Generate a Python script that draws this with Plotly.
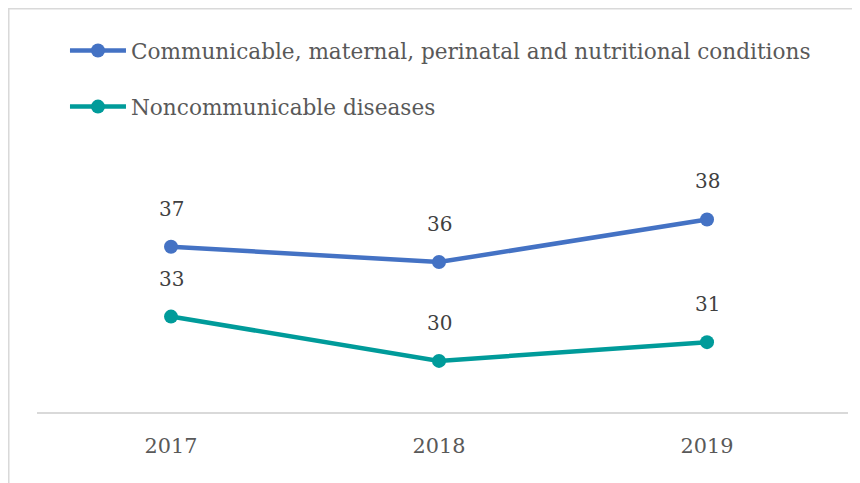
import plotly.graph_objects as go

years = ["2017", "2018", "2019"]
communicable = [36.7, 35.8, 38.3]
noncommunicable = [32.6, 30.0, 31.1]
series_names = [
    "Communicable, maternal, perinatal and nutritional conditions",
    "Noncommunicable diseases",
]
colors = ["#4472C4", "#009B9A"]

FONT = "DejaVu Serif"
fig = go.Figure()
for i, (name, vals) in enumerate(zip(series_names, [communicable, noncommunicable])):
    fig.add_trace(go.Scatter(
        x=years, y=vals, name=name, mode="lines+markers",
        line=dict(color=colors[i], width=4.5),
        marker=dict(size=14, color=colors[i]),
        legendgroup=f"g{i}",
    ))
    for idx, v in enumerate(vals):
        fig.add_annotation(x=idx, y=v, text=f"{v:.0f}", showarrow=False,
                           yshift=38, font=dict(family=FONT, size=20, color="#404040"))

# page body has an 8px margin, so the figure is offset by 8px in the window
fig.update_layout(
    width=860, height=483,
    margin=dict(l=29, r=20, t=174, b=79, autoexpand=False),
    paper_bgcolor="white", plot_bgcolor="white",
    showlegend=True,
    legend=dict(x=0.0345, y=1.661, xanchor="left", yanchor="top",
                font=dict(family=FONT, size=21.6, color="#595959"),
                traceorder="grouped", tracegroupgap=25, itemwidth=56,
                bgcolor="rgba(0,0,0,0)"),
    xaxis=dict(type="category", range=[-0.5, 2.526], showgrid=False,
               showline=True, linecolor="#D9D9D9", linewidth=1.5,
               ticks="", tickfont=dict(family=FONT, size=20.8, color="#595959"),
               ticklabelstandoff=14),
    yaxis=dict(range=[27, 40.5], visible=False, showgrid=False),
    shapes=[dict(type="rect", xref="paper", yref="paper",
                 x0=-0.0348, x1=1.2, y0=-0.5, y1=1.7533,
                 line=dict(color="#D9D9D9", width=1.5), fillcolor="rgba(0,0,0,0)",
                 layer="below")],
)
fig.write_html("out.html")
